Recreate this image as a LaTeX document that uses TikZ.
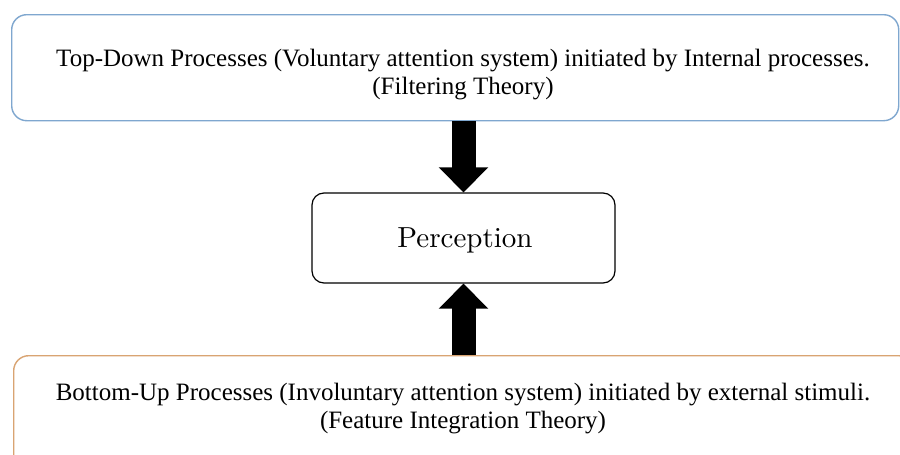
\documentclass[tikz,border=0pt]{standalone}
\usepackage{fontspec}
\setmainfont{Liberation Serif}
\newfontfamily\percfont{lmroman10-regular.otf}
\usetikzlibrary{arrows.meta}
\definecolor{topblue}{HTML}{7FA7CF}
\definecolor{botorange}{HTML}{D9A472}
\tikzset{
  procbox/.style={draw, line width=1.4pt, rounded corners=15pt, anchor=north west, inner sep=0pt},
  proctext/.style={font=\fontsize{25}{28}\selectfont, align=center, inner sep=0pt},
  bigarrow/.style={line width=24pt, -{Triangle[length=25pt,width=48pt]}},
}
\begin{document}
\begin{tikzpicture}[x=1pt,y=-1pt]
\useasboundingbox (0,0) rectangle (900,455);
\clip (0,0) rectangle (900,455);
\fill[white] (0,0) rectangle (900,455);
\node[procbox, draw=topblue, minimum width=887pt, minimum height=106pt] (topbox) at (11,14) {};
\node[proctext] (toptext) at (463,75) {Top-Down Processes (Voluntary attention system) initiated by Internal processes.\\(Filtering Theory)};
\node[draw, line width=1.2pt, rounded corners=12pt, minimum width=303pt, minimum height=90pt, inner sep=0pt] (perc) at (463.5,238) {};
\node[inner sep=0pt, font=\percfont\fontsize{29}{32}\selectfont] (perctext) at (465,240) {Perception};
\node[procbox, draw=botorange, minimum width=900pt, minimum height=120pt] (botbox) at (13,355) {};
\node[proctext] (bottext) at (463,409) {Bottom-Up Processes (Involuntary attention system) initiated by external stimuli.\\(Feature Integration Theory)};
\draw[bigarrow] (topbox.south -| perc.north) -- (perc.north);
\draw[bigarrow] (botbox.north -| perc.south) -- (perc.south);
\end{tikzpicture}
\end{document}
